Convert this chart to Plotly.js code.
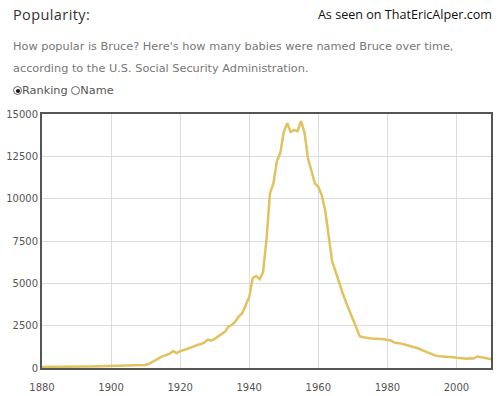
<!DOCTYPE html>
<html>
<head>
<meta charset="utf-8">
<script src="https://cdn.plot.ly/plotly-3.0.1.min.js"></script>
<style>
  html, body { margin: 0; padding: 0; background: #fff; }
  #wrap { position: relative; width: 500px; height: 396px; overflow: hidden; }
  #chart { position: absolute; left: 0; top: 0; width: 500px; height: 396px; }
  .hdr { position: absolute; white-space: nowrap; }
  #title { left: 13px; top: 5px; font-family: "Open Sans", sans-serif; font-size: 14.5px; color: #333; letter-spacing: 0.4px; }
  #seen { right: 8px; top: 6px; font-family: "Open Sans", sans-serif; font-size: 12.6px; color: #111; }
  .desc { left: 13px; font-family: "DejaVu Sans", sans-serif; font-size: 11.3px; color: #777; }
  #d1 { top: 40px; } #d2 { top: 62px; }
  #radios { left: 13px; top: 84px; font-family: "DejaVu Sans", sans-serif; font-size: 11.3px; color: #555; }
  .rb { display: inline-block; width: 9px; height: 9px; border: 1px solid #666; border-radius: 50%; vertical-align: -1px; position: relative; box-sizing: border-box; }
  .rb.on::after { content: ""; position: absolute; left: 1.5px; top: 1.5px; width: 4px; height: 4px; border-radius: 50%; background: #111; }
</style>
</head>
<body>
<div id="wrap">
  <div id="chart"></div>
  <div class="hdr" id="title">Popularity:</div>
  <div class="hdr" id="seen">As seen on ThatEricAlper.com</div>
  <div class="hdr desc" id="d1">How popular is Bruce? Here's how many babies were named Bruce over time,</div>
  <div class="hdr desc" id="d2">according to the U.S. Social Security Administration.</div>
  <div class="hdr" id="radios"><span class="rb on"></span>Ranking <span class="rb"></span>Name</div>
</div>
<script>
const years = [];
for (let y = 1880; y <= 2010; y++) years.push(y);

const babies = [
  60, 55, 70, 65, 75, 70, 75, 70, 85, 80,            // 1880-1889
  80, 75, 90, 85, 90, 95, 95, 90, 100, 85,           // 1890-1899
  110, 90, 100, 105, 110, 115, 120, 130, 140, 150,   // 1900-1909
  180, 250, 380, 480, 600, 700, 780, 850, 1000, 880, // 1910-1919
  1000, 1050, 1120, 1200, 1290, 1360, 1420, 1500, 1680, 1620, // 1920-1929
  1720, 1850, 2000, 2150, 2450, 2550, 2750, 3050, 3250, 3700, // 1930-1939
  4200, 5300, 5430, 5250, 5650, 7600, 10300, 10900, 12200, 12700, // 1940-1949
  13950, 14450, 13950, 14050, 13980, 14580, 13900, 12400, 11700, 10900, // 1950-1959
  10700, 10200, 9300, 7900, 6300, 5700, 5000, 4450, 3900, 3400, // 1960-1969
  2900, 2300, 1880, 1820, 1780, 1720, 1720, 1730, 1720, 1700, // 1970-1979
  1650, 1620, 1500, 1480, 1440, 1390, 1340, 1280, 1220, 1150, // 1980-1989
  1050, 960, 870, 790, 730, 690, 680, 680, 650, 640,  // 1990-1999
  600, 580, 550, 550, 580, 560, 680, 620, 600, 560,   // 2000-2009
  520                                                 // 2010
];

const xTicks = [1880, 1900, 1920, 1940, 1960, 1980, 2000];
const yTicks = [0, 2500, 5000, 7500, 10000, 12500, 15000];

const trace = {
  x: years, y: babies, type: 'scatter', mode: 'lines',
  line: { color: '#e2c25e', width: 2.5, shape: 'linear' },
  hoverinfo: 'x+y'
};

const axisFont = { family: 'DejaVu Sans, sans-serif', size: 10, color: '#555' };

const layout = {
  width: 500, height: 396,
  margin: { l: 42, r: 9, t: 114, b: 28, pad: 0 },
  paper_bgcolor: '#fff', plot_bgcolor: '#fff',
  showlegend: false,
  xaxis: {
    range: [1880, 2010], tickvals: xTicks, ticktext: xTicks.map(String),
    showgrid: true, gridcolor: '#dcdcdc', gridwidth: 1,
    showline: true, linecolor: '#555', linewidth: 2, mirror: true,
    ticks: 'outside', ticklen: 9, tickcolor: 'rgba(0,0,0,0)',
    tickfont: axisFont, zeroline: false, fixedrange: true
  },
  yaxis: {
    range: [0, 15000], tickvals: yTicks, ticktext: yTicks.map(String),
    showgrid: true, gridcolor: '#dcdcdc', gridwidth: 1,
    showline: true, linecolor: '#555', linewidth: 2, mirror: true,
    ticks: '', tickfont: axisFont, zeroline: false, fixedrange: true
  }
};

Plotly.newPlot('chart', [trace], layout, { displayModeBar: false, staticPlot: true });
</script>
</body>
</html>
